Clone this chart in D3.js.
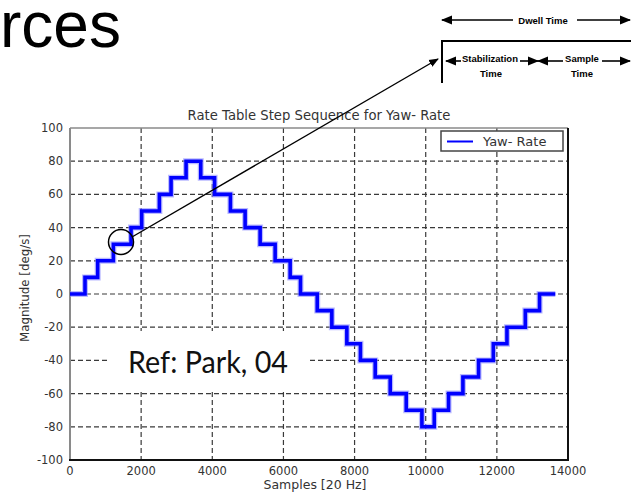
<!DOCTYPE html>
<html>
<head>
<meta charset="utf-8">
<script src="https://cdn.jsdelivr.net/npm/d3@7"></script>
<style>
  body { margin: 0; background: #fff; }
  svg { display: block; }
</style>
</head>
<body>
<svg id="chart" width="631" height="492"></svg>
<script>
// Yaw-rate step sequence: each step starts at a sample index and holds a rate (deg/s)
const stepStarts = [0, 422, 778, 1219, 1716, 2016, 2513, 2841, 3263, 3676, 4065,
  4510, 4923, 5345, 5767, 6189, 6480, 6950, 7361, 7783, 8165, 8580, 9002, 9452,
  9893, 10240, 10642, 11046, 11486, 11900, 12284, 12800, 13200];
const stepValues = [0, 10, 20, 30, 40, 50, 60, 70, 80, 70, 60,
  50, 40, 30, 20, 10, 0, -10, -20, -30, -40, -50, -60, -70,
  -80, -70, -60, -50, -40, -30, -20, -10, 0];
const sequenceEnd = 13643;

const xTicks = [0, 2000, 4000, 6000, 8000, 10000, 12000, 14000];
const yTicks = [-100, -80, -60, -40, -20, 0, 20, 40, 60, 80, 100];

const svg = d3.select("#chart");
const x = d3.scaleLinear().domain([0, 14000]).range([70, 568]);
const y = d3.scaleLinear().domain([-100, 100]).range([460, 128]);

const tickFont = "DejaVu Sans, sans-serif";

// heading fragment of the slide
svg.append("text").attr("x", 0).attr("y", 47)
  .attr("font-family", "Liberation Sans, Arial, sans-serif")
  .attr("font-size", 64).attr("fill", "#000").text("rces");

// plot background
svg.append("rect").attr("x", x(0)).attr("y", y(100))
  .attr("width", x(14000) - x(0)).attr("height", y(-100) - y(100)).attr("fill", "#fff");

// grid
const grid = svg.append("g").attr("stroke", "#3a3a3a").attr("stroke-width", 1.2)
  .attr("stroke-dasharray", "5,3");
grid.selectAll("line.v").data(xTicks.slice(1, -1)).join("line")
  .attr("x1", d => x(d)).attr("x2", d => x(d)).attr("y1", y(100)).attr("y2", y(-100));
grid.selectAll("line.h").data(yTicks.slice(1, -1)).join("line")
  .attr("x1", x(0)).attr("x2", x(14000)).attr("y1", d => y(d)).attr("y2", d => y(d));

// reference note box
svg.append("rect").attr("x", 107).attr("y", 331).attr("width", 203).attr("height", 58).attr("fill", "#fff");
svg.append("text").attr("x", 128).attr("y", 373)
  .attr("font-family", "Lato, Carlito, sans-serif").attr("font-size", 30)
  .attr("textLength", 160).attr("lengthAdjust", "spacingAndGlyphs")
  .attr("fill", "#111").text("Ref: Park, 04");

// axes frame
svg.append("line").attr("x1", x(0)).attr("x2", x(14000)).attr("y1", y(100)).attr("y2", y(100))
  .attr("stroke", "#8a8a8a").attr("stroke-width", 1.5);
svg.append("line").attr("x1", x(0)).attr("x2", x(0)).attr("y1", y(100)).attr("y2", y(-100))
  .attr("stroke", "#8a8a8a").attr("stroke-width", 2);
svg.append("line").attr("x1", x(0) - 1).attr("x2", x(14000) + 1).attr("y1", y(-100)).attr("y2", y(-100))
  .attr("stroke", "#111").attr("stroke-width", 2);
svg.append("line").attr("x1", x(14000)).attr("x2", x(14000)).attr("y1", y(100)).attr("y2", y(-100))
  .attr("stroke", "#111").attr("stroke-width", 2);

// tick labels
svg.append("g").selectAll("text").data(xTicks).join("text")
  .attr("x", d => x(d)).attr("y", 475).attr("text-anchor", "middle")
  .attr("font-family", tickFont).attr("font-size", 11.5).attr("fill", "#333")
  .text(d => d);
svg.append("g").selectAll("text").data(yTicks).join("text")
  .attr("x", 63).attr("y", d => y(d) + 4).attr("text-anchor", "end")
  .attr("font-family", tickFont).attr("font-size", 11.5).attr("fill", "#333")
  .text(d => d);

// titles
svg.append("text").attr("x", (x(0) + x(14000)) / 2).attr("y", 120).attr("text-anchor", "middle")
  .attr("font-family", tickFont).attr("font-size", 13.2).attr("fill", "#333")
  .text("Rate Table Step Sequence for Yaw- Rate");
svg.append("text").attr("x", 315).attr("y", 489).attr("text-anchor", "middle")
  .attr("font-family", tickFont).attr("font-size", 12.5).attr("fill", "#333")
  .text("Samples [20 Hz]");
svg.append("text").attr("transform", `translate(29,${y(0) - 6}) rotate(-90)`).attr("text-anchor", "middle")
  .attr("font-family", tickFont).attr("font-size", 11.8).attr("fill", "#333")
  .text("Magnitude [deg/s]");

// step sequence
const pts = stepStarts.map((s, i) => [s, stepValues[i]]);
pts.push([sequenceEnd, stepValues[stepValues.length - 1]]);
const stepLine = d3.line().x(d => x(d[0])).y(d => y(d[1])).curve(d3.curveStepAfter);
svg.append("path").attr("d", stepLine(pts)).attr("fill", "none")
  .attr("stroke", "#8c8cff").attr("stroke-width", 6).attr("stroke-opacity", 0.6);
svg.append("path").attr("d", stepLine(pts)).attr("fill", "none")
  .attr("stroke", "#0000ff").attr("stroke-width", 3.6);

// legend
const lg = svg.append("g");
lg.append("rect").attr("x", 441).attr("y", 131).attr("width", 122).attr("height", 20)
  .attr("fill", "#fff").attr("stroke", "#444").attr("stroke-width", 1.5);
lg.append("line").attr("x1", 447).attr("x2", 473).attr("y1", 141.5).attr("y2", 141.5)
  .attr("stroke", "#0000ff").attr("stroke-width", 2);
lg.append("text").attr("x", 483).attr("y", 146)
  .attr("font-family", tickFont).attr("font-size", 13).attr("fill", "#333").text("Yaw- Rate");

// callout: circled step with pointer to the timing sketch
svg.append("ellipse").attr("cx", 121).attr("cy", 242).attr("rx", 12.5).attr("ry", 12.5)
  .attr("fill", "none").attr("stroke", "#000").attr("stroke-width", 1.5);

const defs = svg.append("defs");
defs.append("marker").attr("id", "tip").attr("viewBox", "0 0 10 10").attr("refX", 9).attr("refY", 5)
  .attr("markerWidth", 7).attr("markerHeight", 7).attr("orient", "auto-start-reverse")
  .append("path").attr("d", "M0,1 L10,5 L0,9 Z").attr("fill", "#000");

svg.append("line").attr("x1", 132).attr("y1", 237).attr("x2", 438).attr("y2", 59)
  .attr("stroke", "#000").attr("stroke-width", 1.4).attr("marker-end", "url(#tip)");

// timing sketch
const sk = svg.append("g").attr("stroke", "#000").attr("stroke-width", 1.6);
sk.append("line").attr("x1", 442).attr("x2", 513).attr("y1", 20).attr("y2", 20).attr("marker-start", "url(#tip)");
sk.append("line").attr("x1", 577).attr("x2", 630).attr("y1", 20).attr("y2", 20).attr("marker-end", "url(#tip)");
sk.append("line").attr("x1", 442).attr("x2", 631).attr("y1", 41).attr("y2", 41).attr("stroke-width", 2);
sk.append("line").attr("x1", 442).attr("x2", 442).attr("y1", 40).attr("y2", 83).attr("stroke-width", 2);
sk.append("line").attr("x1", 446).attr("x2", 461).attr("y1", 61).attr("y2", 61).attr("marker-start", "url(#tip)");
sk.append("line").attr("x1", 520).attr("x2", 538).attr("y1", 61).attr("y2", 61).attr("marker-end", "url(#tip)");
sk.append("line").attr("x1", 538).attr("x2", 563).attr("y1", 61).attr("y2", 61).attr("marker-start", "url(#tip)");
sk.append("line").attr("x1", 602).attr("x2", 630).attr("y1", 61).attr("y2", 61).attr("marker-end", "url(#tip)");

const skText = [
  { t: "Dwell Time", x: 543, y: 23.5 },
  { t: "Stabilization", x: 490, y: 61.5 },
  { t: "Sample", x: 582, y: 61.5 },
  { t: "Time", x: 491, y: 77 },
  { t: "Time", x: 582, y: 77 }
];
svg.append("g").selectAll("text").data(skText).join("text")
  .attr("x", d => d.x).attr("y", d => d.y).attr("text-anchor", "middle")
  .attr("font-family", "Liberation Sans, Arial, sans-serif").attr("font-weight", "bold")
  .attr("font-size", 9.5).attr("fill", "#000").text(d => d.t);
</script>
</body>
</html>
